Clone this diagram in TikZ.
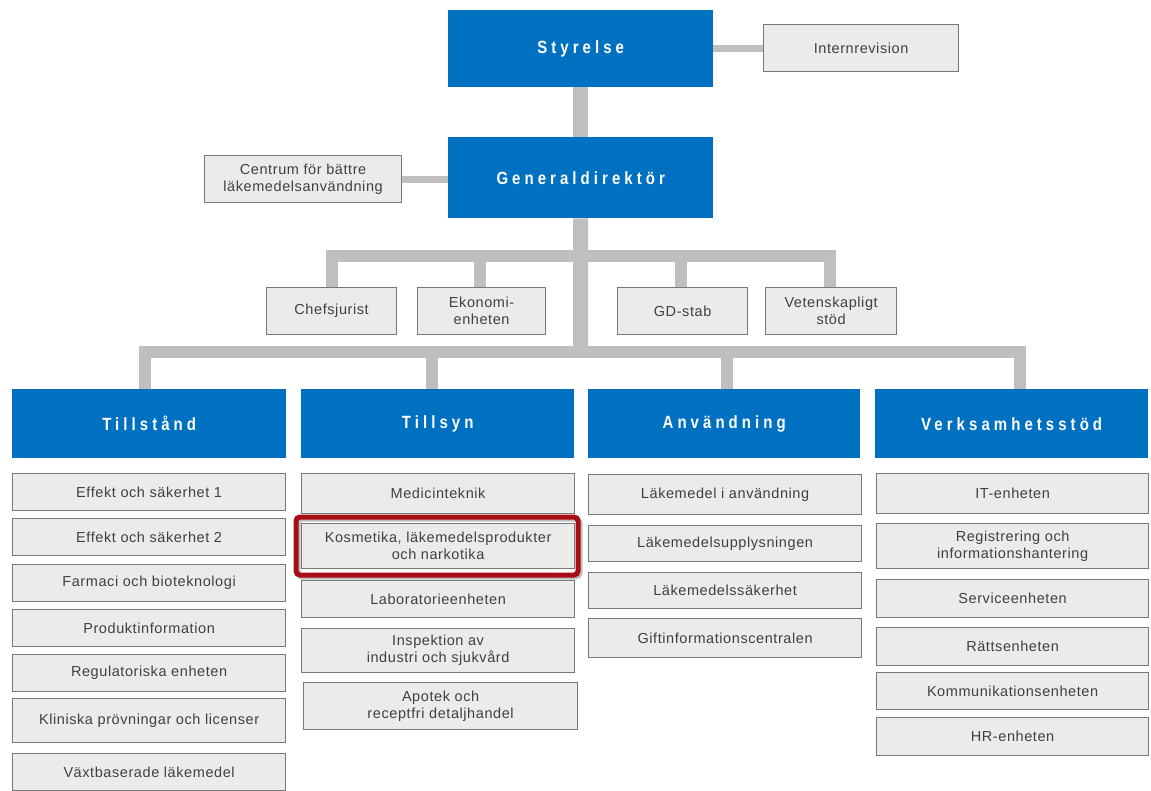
\documentclass[tikz,border=0pt]{standalone}
\usepackage{fontspec}
\setmainfont{Liberation Sans}
\newfontfamily\hdrfont[LetterSpace=27]{Liberation Sans}
\newfontfamily\bodyfont[LetterSpace=4]{Liberation Sans}
\definecolor{orgblue}{RGB}{0,112,192}
\definecolor{boxfill}{RGB}{235,235,235}
\definecolor{boxline}{RGB}{120,120,120}
\definecolor{txtgray}{RGB}{64,64,64}
\definecolor{conngray}{RGB}{191,191,191}
\definecolor{hilite}{RGB}{168,12,20}
\newcommand{\hdrtext}[1]{\scalebox{1}[1.18]{\hdrfont\bfseries\fontsize{15}{17}\selectfont #1}}
\tikzset{
  bbox/.style={fill=orgblue, draw=none, anchor=north west, inner sep=0pt, text=white, align=center},
  gbox/.style={fill=boxfill, draw=boxline, line width=1.2pt, anchor=north west, inner sep=0pt,
    text=txtgray, align=center, font=\bodyfont\fontsize{14.5}{17}\selectfont},
  conn/.style={draw=conngray, line width=12pt},
  trunk/.style={draw=conngray, line width=15pt},
  sideconn/.style={draw=conngray, line width=7pt},
}
\begin{document}
\begin{tikzpicture}[x=1pt,y=-1pt]
\useasboundingbox (0,0) rectangle (1151,790);
\clip (0,0) rectangle (1151,790);
\fill[white] (0,0) rectangle (1151,790);

% top level
\node[bbox, minimum width=265pt, minimum height=77pt] (sty) at (448,10) {\hdrtext{Styrelse}};
\node[gbox, minimum width=195pt, minimum height=47pt] (intr) at (763,24) {Internrevision};
\node[bbox, minimum width=265pt, minimum height=81pt] (gd) at (448,137) {\hdrtext{Generaldirektör}};
\node[gbox, minimum width=197pt, minimum height=47pt] (cen) at (204,155) {Centrum för bättre\\läkemedelsanvändning};

% staff units
\node[gbox, minimum width=130pt, minimum height=47pt] (chef) at (266,287) {Chefsjurist};
\node[gbox, minimum width=128pt, minimum height=47pt] (eko) at (417,287) {Ekonomi-\\enheten};
\node[gbox, minimum width=130pt, minimum height=47pt] (gds) at (617,287) {GD-stab};
\node[gbox, minimum width=131pt, minimum height=47pt] (vet) at (765,287) {Vetenskapligt\\stöd};

% departments
\node[bbox, minimum width=274pt, minimum height=69pt] (till) at (12,389) {\hdrtext{Tillstånd}};
\node[bbox, minimum width=273pt, minimum height=69pt] (tsyn) at (301,389) {\hdrtext{Tillsyn}};
\node[bbox, minimum width=272pt, minimum height=69pt] (anv) at (588,389) {\hdrtext{Användning}};
\node[bbox, minimum width=273pt, minimum height=69pt] (verk) at (875,389) {\hdrtext{Verksamhetsstöd}};

% Tillstånd column
\node[gbox, minimum width=273pt, minimum height=37pt] (a1) at (12,473) {Effekt och säkerhet 1};
\node[gbox, minimum width=273pt, minimum height=37pt] (a2) at (12,518) {Effekt och säkerhet 2};
\node[gbox, minimum width=273pt, minimum height=37pt] (a3) at (12,564) {Farmaci och bioteknologi};
\node[gbox, minimum width=273pt, minimum height=37pt] (a4) at (12,609) {Produktinformation};
\node[gbox, minimum width=273pt, minimum height=37pt] (a5) at (12,654) {Regulatoriska enheten};
\node[gbox, minimum width=273pt, minimum height=44pt] (a6) at (12,698) {Kliniska prövningar och licenser};
\node[gbox, minimum width=273pt, minimum height=37pt] (a7) at (12,753) {Växtbaserade läkemedel};

% Tillsyn column
\node[gbox, minimum width=273pt, minimum height=40pt] (b1) at (301,473) {Medicinteknik};
\node[gbox, minimum width=273pt, minimum height=45pt] (b2) at (301,523) {Kosmetika, läkemedelsprodukter\\och narkotika};
\node[gbox, minimum width=273pt, minimum height=37pt] (b3) at (301,580) {Laboratorieenheten};
\node[gbox, minimum width=273pt, minimum height=44pt] (b4) at (301,628) {Inspektion av\\industri och sjukvård};
\node[gbox, minimum width=274pt, minimum height=47pt] (b5) at (303,682) {Apotek och\\receptfri detaljhandel};
\draw[black!25, line width=5pt, rounded corners=4pt] (298,519) rectangle (580,577);
\draw[hilite, line width=5pt, rounded corners=4pt] (296,517) rectangle (578,575);

% Användning column
\node[gbox, minimum width=273pt, minimum height=40pt] (c1) at (588,474) {Läkemedel i användning};
\node[gbox, minimum width=273pt, minimum height=36pt] (c2) at (588,525) {Läkemedelsupplysningen};
\node[gbox, minimum width=273pt, minimum height=36pt] (c3) at (588,572) {Läkemedelssäkerhet};
\node[gbox, minimum width=273pt, minimum height=39pt] (c4) at (588,618) {Giftinformationscentralen};

% Verksamhetsstöd column
\node[gbox, minimum width=272pt, minimum height=40pt] (d1) at (876,473) {IT-enheten};
\node[gbox, minimum width=272pt, minimum height=45pt] (d2) at (876,523) {Registrering och\\informationshantering};
\node[gbox, minimum width=272pt, minimum height=38pt] (d3) at (876,579) {Serviceenheten};
\node[gbox, minimum width=272pt, minimum height=38pt] (d4) at (876,627) {Rättsenheten};
\node[gbox, minimum width=272pt, minimum height=37pt] (d5) at (876,672) {Kommunikationsenheten};
\node[gbox, minimum width=272pt, minimum height=38pt] (d6) at (876,717) {HR-enheten};

% connectors
\draw[sideconn] (intr.west) -- (intr.west -| sty.east);
\draw[trunk] (sty.south) -- (gd.north);
\draw[sideconn] (cen.east) -- (cen.east -| gd.west);

\coordinate (lowc) at (580.5,352);
\coordinate (ub1) at (326,256);
\coordinate (ub2) at (836,256);
\coordinate (u1) at (332,256);
\coordinate (u2) at (480,256);
\coordinate (u3) at (681,256);
\coordinate (u4) at (830,256);
\coordinate (lb1) at (139,352);
\coordinate (lb2) at (1026,352);
\coordinate (l1) at (145,352);
\coordinate (l2) at (432,352);
\coordinate (l3) at (727,352);
\coordinate (l4) at (1020,352);

\draw[trunk] (gd.south) -- (lowc);
\draw[conn] (ub1) -- (ub2);
\draw[conn] (lb1) -- (lb2);
\draw[conn] (u1) -- (u1 |- chef.north);
\draw[conn] (u2) -- (u2 |- eko.north);
\draw[conn] (u3) -- (u3 |- gds.north);
\draw[conn] (u4) -- (u4 |- vet.north);
\draw[conn] (l1) -- (l1 |- till.north);
\draw[conn] (l2) -- (l2 |- tsyn.north);
\draw[conn] (l3) -- (l3 |- anv.north);
\draw[conn] (l4) -- (l4 |- verk.north);
\end{tikzpicture}
\end{document}
